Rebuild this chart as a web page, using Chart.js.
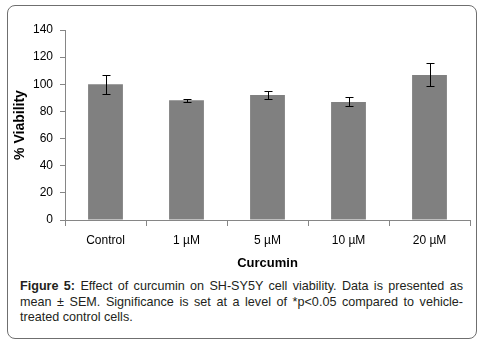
<!DOCTYPE html>
<html lang="en">
<head>
  <meta charset="UTF-8" />
  <title>Curcumin viability</title>
  <script src="https://cdn.jsdelivr.net/npm/chart.js"></script>
  <style>
    body {
      margin: 0;
      width: 478px;
      height: 347px;
      background: #fff;
      position: relative;
      overflow: hidden;
    }
    #frame {
      position: absolute;
      left: 7px;
      top: 5px;
      width: 468px;
      height: 332px;
      border: 1.5px solid #6f6f6f;
      border-radius: 8px;
    }
    #plot {
      position: absolute;
      left: 0;
      top: 0;
      width: 478px;
      height: 275px;
    }
    #caption {
      position: absolute;
      left: 20px;
      top: 279px;
      width: 443px;
      font-family: "Liberation Sans", Arial, sans-serif;
      font-size: 12.6px;
      line-height: 15.5px;
      color: #231f20;
      text-align: justify;
    }
    #caption b { font-weight: bold; }
  </style>
</head>
<body>
  <div id="frame"></div>
  <div id="plot"><canvas id="chart" width="478" height="275"></canvas></div>
  <div id="caption"><b>Figure 5:</b> Effect of curcumin on SH-SY5Y cell viability. Data is presented as mean ± SEM. Significance is set at a level of *p&lt;0.05 compared to vehicle-treated control cells.</div>

  <script>
    // datos
    const categories = ["Control", "1 µM", "5 µM", "10 µM", "20 µM"];
    const viability = [100, 88.3, 92.1, 87.0, 106.9];
    const sem = [7.1, 1.2, 2.9, 3.3, 8.5];
    const yTicks = [0, 20, 40, 60, 80, 100, 120, 140];

    const labelFont = { family: "'Liberation Sans', Arial, sans-serif", size: 12 };
    const xTitleFont = { family: "'Liberation Sans', Arial, sans-serif", size: 13, weight: 'bold' };
    const yTitleFont = { family: "'Liberation Sans', Arial, sans-serif", size: 14, weight: 'bold' };

    // barras de error (SEM)
    const errorBars = {
      id: 'errorBars',
      afterDatasetsDraw(chart) {
        const ctx = chart.ctx;
        const y = chart.scales.y;
        const meta = chart.getDatasetMeta(0);
        ctx.save();
        ctx.strokeStyle = '#000';
        ctx.lineWidth = 1;
        meta.data.forEach((bar, i) => {
          const x = Math.round(bar.x) + 0.5;
          const top = Math.round(y.getPixelForValue(viability[i] + sem[i])) + 0.5;
          const bot = Math.round(y.getPixelForValue(viability[i] - sem[i])) + 0.5;
          ctx.beginPath();
          ctx.moveTo(x, top); ctx.lineTo(x, bot);
          ctx.moveTo(x - 4, top); ctx.lineTo(x + 4, top);
          ctx.moveTo(x - 4, bot); ctx.lineTo(x + 4, bot);
          ctx.stroke();
        });
        ctx.restore();
      }
    };

    new Chart(document.getElementById('chart'), {
      type: 'bar',
      data: {
        labels: categories,
        datasets: [{
          data: viability,
          backgroundColor: '#808080',
          borderWidth: 0,
          barPercentage: 0.43,
          categoryPercentage: 1
        }]
      },
      options: {
        responsive: false,
        animation: false,
        devicePixelRatio: 1,
        layout: { padding: { left: 0, right: 8, top: 30, bottom: 0 } },
        plugins: {
          legend: { display: false },
          tooltip: { enabled: false }
        },
        scales: {
          x: {
            afterFit: s => { s.height = 55; },
            grid: {
              offset: true,
              drawOnChartArea: false,
              color: '#868686',
              tickLength: 6
            },
            border: { color: '#868686' },
            ticks: { color: '#000', font: labelFont, padding: 7 },
            title: {
              display: true,
              text: 'Curcumin',
              color: '#000',
              font: xTitleFont,
              padding: { top: 0, bottom: 4 }
            }
          },
          y: {
            min: 0,
            max: 140,
            afterFit: s => { s.width = 65; },
            afterBuildTicks: s => { s.ticks = yTicks.map(v => ({ value: v })); },
            grid: {
              drawOnChartArea: false,
              color: '#868686',
              tickLength: 5
            },
            border: { color: '#868686' },
            ticks: { color: '#000', font: labelFont, padding: 7 },
            title: {
              display: true,
              text: '% Viability',
              color: '#000',
              font: yTitleFont,
              padding: { top: 12, bottom: 0 }
            }
          }
        }
      },
      plugins: [errorBars]
    });
  </script>
</body>
</html>
